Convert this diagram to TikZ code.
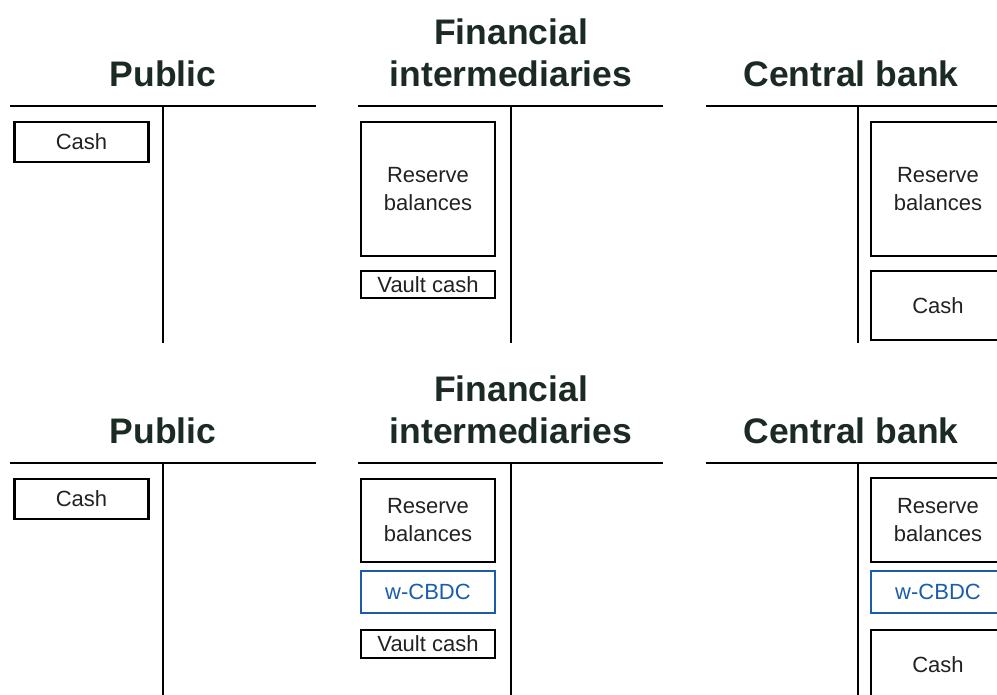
\documentclass[tikz,border=0pt]{standalone}
\usepackage{fontspec}
\setmainfont{Liberation Sans}
\definecolor{titlecol}{HTML}{1B2B24}
\definecolor{textcol}{HTML}{222222}
\definecolor{cbdcblue}{HTML}{1A5DAB}
\begin{document}
\begin{tikzpicture}[x=1pt,y=-1pt,
  title/.style={font=\fontsize{35.5}{42}\selectfont\bfseries, text=titlecol, align=center, inner sep=0pt},
  tline/.style={line width=2.6pt, black},
  acct/.style={draw=black, line width=2.4pt, text=textcol, font=\fontsize{22}{28}\selectfont, align=center, inner sep=0pt, minimum width=134pt},
  cbdc/.style={acct, draw=cbdcblue, line width=2pt, text=cbdcblue}]
\useasboundingbox (0,0) rectangle (997,695);

% ================= TOP PANEL =================
\node[title] (t1p) at (163,74) {Public};
\node[title] (t1f) at (511,53) {Financial\\intermediaries};
\node[title] (t1c) at (851,74) {Central bank};

\coordinate (a1l) at (10,106);  \coordinate (a1r) at (316,106);
\coordinate (a1t) at (163,106); \coordinate (a1b) at (163,343);
\coordinate (b1l) at (358,106); \coordinate (b1r) at (663,106);
\coordinate (b1t) at (511,106); \coordinate (b1b) at (511,343);
\coordinate (c1l) at (706,106); \coordinate (c1r) at (1000,106);
\coordinate (c1t) at (858,106); \coordinate (c1b) at (858,343);
\draw[tline] (a1l) -- (a1r); \draw[tline] (a1t) -- (a1b);
\draw[tline] (b1l) -- (b1r); \draw[tline] (b1t) -- (b1b);
\draw[tline] (c1l) -- (c1r); \draw[tline] (c1t) -- (c1b);

\node[acct, minimum height=40pt] (p1cash) at (81.5,142) {Cash};
\node[acct, minimum height=134pt] (f1res) at (428,189) {Reserve\\balances};
\node[acct, minimum height=27pt] (f1vault) at (428,284.5) {Vault cash};
\node[acct, minimum height=134pt] (c1res) at (938,189) {Reserve\\balances};
\node[acct, minimum height=69pt] (c1cash) at (938,305.5) {Cash};

% ================= BOTTOM PANEL =================
\node[title] (t2p) at (163,431) {Public};
\node[title] (t2f) at (511,410) {Financial\\intermediaries};
\node[title] (t2c) at (851,431) {Central bank};

\coordinate (a2l) at (10,463);  \coordinate (a2r) at (316,463);
\coordinate (a2t) at (163,463); \coordinate (a2b) at (163,700);
\coordinate (b2l) at (358,463); \coordinate (b2r) at (663,463);
\coordinate (b2t) at (511,463); \coordinate (b2b) at (511,700);
\coordinate (c2l) at (706,463); \coordinate (c2r) at (1000,463);
\coordinate (c2t) at (858,463); \coordinate (c2b) at (858,700);
\draw[tline] (a2l) -- (a2r); \draw[tline] (a2t) -- (a2b);
\draw[tline] (b2l) -- (b2r); \draw[tline] (b2t) -- (b2b);
\draw[tline] (c2l) -- (c2r); \draw[tline] (c2t) -- (c2b);

\node[acct, minimum height=40pt] (p2cash) at (81.5,499) {Cash};
\node[acct, minimum height=83pt] (f2res) at (428,520.5) {Reserve\\balances};
\node[cbdc, minimum height=42pt] (f2cbdc) at (428,591.5) {w-CBDC};
\node[acct, minimum height=28pt] (f2vault) at (428,644) {Vault cash};
\node[acct, minimum height=84pt] (c2res) at (938,520) {Reserve\\balances};
\node[cbdc, minimum height=42pt] (c2cbdc) at (938,592) {w-CBDC};
\node[acct, minimum height=70pt] (c2cash) at (938,665) {Cash};
\end{tikzpicture}
\end{document}
